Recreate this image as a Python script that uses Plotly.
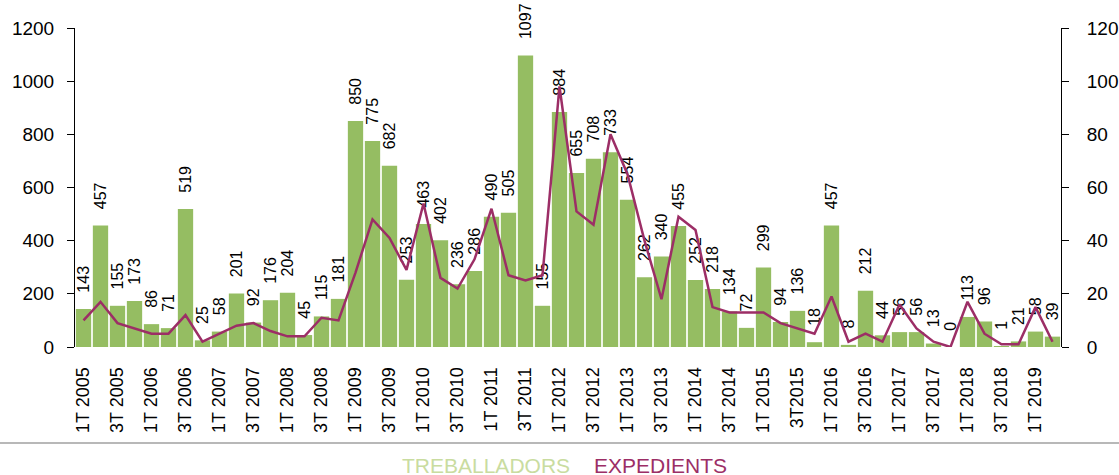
import plotly.graph_objects as go

quarters = [f"{q}T {y}" for y in range(2005, 2020) for q in (1, 2, 3, 4)][:58]
quarters[42] = "3T2015"

treballadors = [143, 457, 155, 173, 86, 71, 519, 25, 58, 201, 92, 176, 204, 45, 115, 181,
                850, 775, 682, 253, 463, 402, 236, 286, 490, 505, 1097, 155, 884, 655, 708, 733,
                554, 262, 340, 455, 252, 218, 134, 72, 299, 94, 136, 18, 457, 8, 212, 44,
                56, 56, 13, 0, 113, 96, 1, 21, 58, 39]

expedients = [10, 17, 9, 7, 5, 5, 12, 2, 5, 8, 9, 6, 4, 4, 11, 10,
              28, 48, 41, 29, 54, 26, 22, 33, 52, 27, 25, 27, 98, 51, 46, 80,
              65, 40, 18, 49, 44, 15, 13, 13, 13, 9, 7, 5, 19, 2, 5, 2,
              16, 7, 2, 0, 17, 5, 1, 1, 15, 2]

FONT = "Liberation Sans, Arial, sans-serif"
GREEN = "#95bd62"
PLUM = "#9c2e66"

x = list(range(len(quarters)))

fig = go.Figure()

fig.add_trace(go.Bar(
    x=x,
    y=treballadors,
    name="TREBALLADORS",
    marker=dict(color=GREEN, line=dict(width=0)),
    text=["\u00a0\u00a0\u00a0" + str(v) for v in treballadors],
    textposition="outside",
    textangle=-90,
    constraintext="none",
    cliponaxis=False,
    textfont=dict(family=FONT, size=16, color="black"),
))

fig.add_trace(go.Scatter(
    x=x,
    y=expedients,
    name="EXPEDIENTS",
    mode="lines",
    line=dict(color=PLUM, width=2.5),
    yaxis="y2",
))

fig.update_layout(
    width=1119,
    height=475,
    margin=dict(l=75, r=58, t=28, b=128),
    paper_bgcolor="white",
    plot_bgcolor="white",
    showlegend=False,
    bargap=0.1,
    font=dict(family=FONT, size=19, color="black"),
    xaxis=dict(
        range=[-0.5, len(quarters) - 0.5],
        tickmode="array",
        tickvals=x[::2],
        ticktext=quarters[::2],
        tickangle=-90,
        ticks="outside",
        ticklen=12,
        tickcolor="rgba(0,0,0,0)",
        showgrid=False,
        showline=False,
        zeroline=False,
        automargin=False,
        tickfont=dict(size=18),
    ),
    yaxis=dict(
        range=[0, 1200],
        dtick=200,
        showgrid=False,
        zeroline=False,
        showline=True,
        linecolor="black",
        linewidth=1,
        ticks="outside",
        ticklen=7,
        tickcolor="black",
        ticklabelstandoff=9,
        automargin=False,
        tickfont=dict(size=19),
    ),
    yaxis2=dict(
        range=[0, 120],
        dtick=20,
        overlaying="y",
        side="right",
        showgrid=False,
        zeroline=False,
        showline=True,
        linecolor="black",
        linewidth=1,
        ticks="outside",
        ticklen=7,
        tickcolor="black",
        ticklabelstandoff=14,
        automargin=False,
        tickfont=dict(size=19),
    ),
    shapes=[dict(
        type="line", xref="paper", yref="paper",
        x0=-0.08, x1=1.07, y0=-0.301, y1=-0.301,
        line=dict(color="#a0a0a0", width=1.5),
    )],
    annotations=[
        dict(text="TREBALLADORS", x=0.504, y=-0.37, xref="paper", yref="paper",
             xanchor="right", yanchor="middle", showarrow=False,
             font=dict(family=FONT, size=21, color="#c9dca0")),
        dict(text="EXPEDIENTS", x=0.524, y=-0.37, xref="paper", yref="paper",
             xanchor="left", yanchor="middle", showarrow=False,
             font=dict(family=FONT, size=21, color=PLUM)),
    ],
)

# the page body has a default 8px margin; drop it so the figure sits at 0,0
fig.write_html("out.html", config={"displayModeBar": False},
               post_script="document.body.style.margin='0';")
